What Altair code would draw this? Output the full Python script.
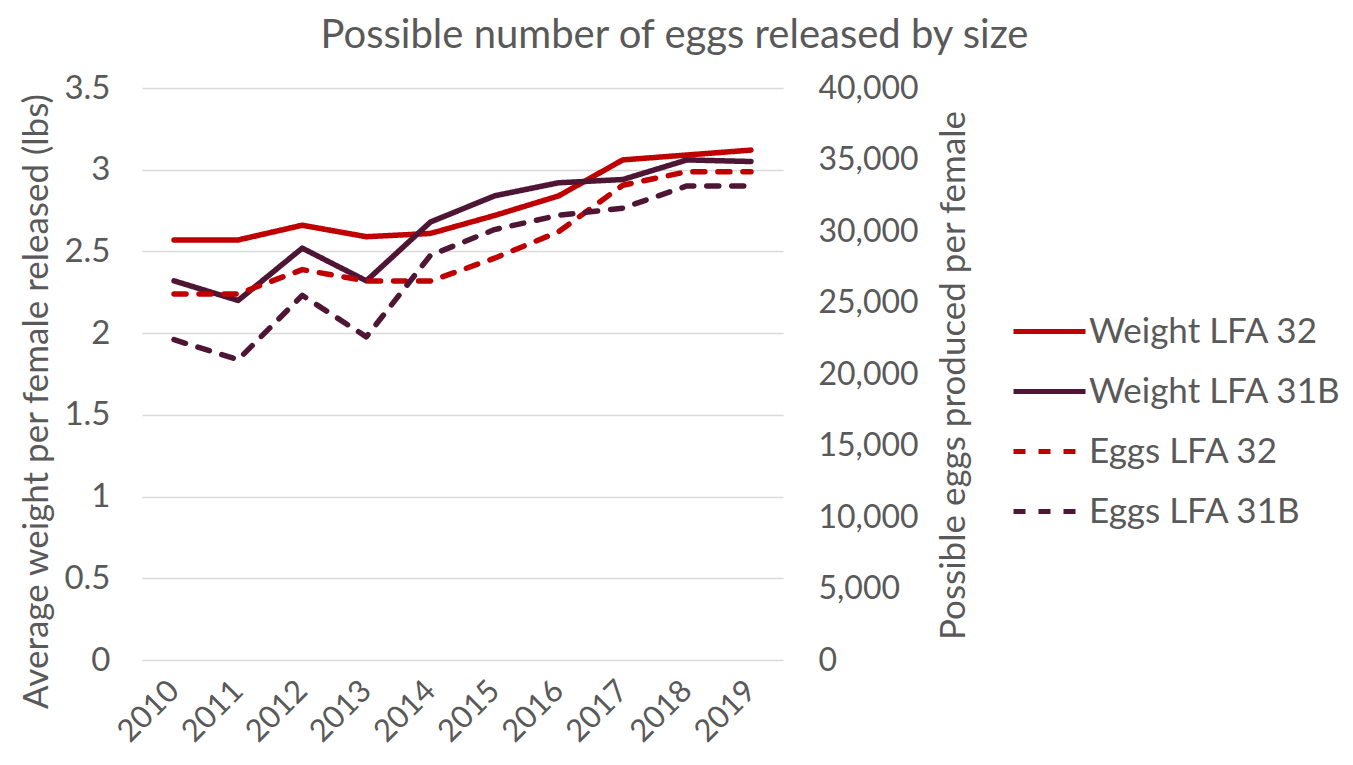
import altair as alt
import pandas as pd

years = ["2010", "2011", "2012", "2013", "2014", "2015", "2016", "2017", "2018", "2019"]
weight_lfa32 = [2.57, 2.57, 2.66, 2.59, 2.61, 2.72, 2.84, 3.06, 3.09, 3.12]
weight_lfa31b = [2.32, 2.20, 2.52, 2.32, 2.68, 2.84, 2.92, 2.94, 3.06, 3.05]
eggs_lfa32 = [25600, 25600, 27300, 26500, 26500, 28100, 29950, 33200, 34150, 34150]
eggs_lfa31b = [22400, 21000, 25500, 22600, 28300, 30100, 31100, 31600, 33150, 33150]

series_order = ["Weight LFA 32", "Weight LFA 31B", "Eggs LFA 32", "Eggs LFA 31B"]
series_colors = ["#C00000", "#4E1535", "#C00000", "#4E1535"]
series_dashes = [[1, 0], [1, 0], [12, 13], [12, 13]]

w_rows = []
for i, y in enumerate(years):
    w_rows.append({"year": y, "series": "Weight LFA 32", "value": weight_lfa32[i]})
    w_rows.append({"year": y, "series": "Weight LFA 31B", "value": weight_lfa31b[i]})
e_rows = []
for i, y in enumerate(years):
    e_rows.append({"year": y, "series": "Eggs LFA 32", "value": eggs_lfa32[i]})
    e_rows.append({"year": y, "series": "Eggs LFA 31B", "value": eggs_lfa31b[i]})
w_df = pd.DataFrame(w_rows)
e_df = pd.DataFrame(e_rows)

FONT = "Lato"
GREY = "#595959"

legend = alt.Legend(
    title=None, orient="none", legendX=866, legendY=226,
    symbolType="M-1,0H5", symbolSize=576, symbolStrokeWidth=5,
    labelFont=FONT, labelFontSize=35, labelColor=GREY, labelLimit=500,
    labelOffset=46, rowPadding=24, padding=0,
)

color = alt.Color("series:N", scale=alt.Scale(domain=series_order, range=series_colors), legend=legend)
dash = alt.StrokeDash("series:N", scale=alt.Scale(domain=series_order, range=series_dashes), legend=legend)

x_enc = alt.X(
    "year:O", sort=years, title=None,
    axis=alt.Axis(labelAngle=-45, labelAlign="right", labelBaseline="middle",
                  labelFontSize=31, labelPadding=26, grid=False, ticks=False, domain=False),
)

weight = alt.Chart(w_df).mark_line(strokeWidth=5.5, strokeCap="round", strokeJoin="round").encode(
    x=x_enc,
    y=alt.Y("value:Q", scale=alt.Scale(domain=[0, 3.5], nice=False),
            axis=alt.Axis(title="Average weight per female released (lbs)", orient="left",
                          values=[0, 0.5, 1, 1.5, 2, 2.5, 3, 3.5], format="~g",
                          labelFontSize=33, labelPadding=32, grid=True, gridColor="#D9D9D9", gridWidth=1.5,
                          titleFontSize=35, titleX=-95, titleY=313, titleBaseline="alphabetic",
                          titleAngle=270)),
    color=color,
    strokeDash=dash,
    order=alt.Order("year:O"),
)

eggs = alt.Chart(e_df).mark_line(strokeWidth=5.5, strokeCap="round", strokeJoin="round").encode(
    x=x_enc,
    y=alt.Y("value:Q", scale=alt.Scale(domain=[0, 40000], nice=False),
            axis=alt.Axis(title="Possible eggs produced per female", orient="right",
                          values=[0, 5000, 10000, 15000, 20000, 25000, 30000, 35000, 40000], format=",d",
                          labelFontSize=32, labelPadding=35, labelAlign="left", grid=False,
                          titleFontSize=35, titleX=181, titleY=287, titleBaseline="alphabetic",
                          titleAngle=270)),
    color=color,
    strokeDash=dash,
    order=alt.Order("year:O"),
)

chart = alt.layer(weight, eggs).resolve_scale(y="independent").properties(
    width=641, height=572,
    padding={"left": 134, "top": 80, "right": 562, "bottom": 89},
    autosize=alt.AutoSizeParams(type="none"),
    title=alt.TitleParams("Possible number of eggs released by size", font=FONT, fontSize=40,
                          color=GREY, fontWeight="normal", anchor="middle", dx=212, dy=-12),
).configure_axis(
    labelFont=FONT, titleFont=FONT, labelColor=GREY, titleColor=GREY,
    titleFontWeight="normal", ticks=False, domain=False,
).configure_view(stroke=None)

chart.save("out.html", embed_options={"renderer": "svg", "actions": False})
